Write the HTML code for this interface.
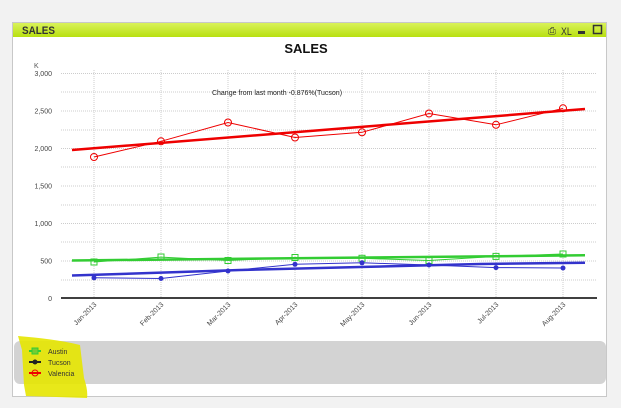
<!DOCTYPE html>
<html><head><meta charset="utf-8"><style>
html,body{margin:0;padding:0;background:#f2f2f2;width:621px;height:408px;overflow:hidden}
svg{display:block}
text{font-family:"Liberation Sans",sans-serif}
</style></head><body>
<svg width="621" height="408" viewBox="0 0 621 408">
<defs><linearGradient id="hg" x1="0" y1="0" x2="0" y2="1"><stop offset="0" stop-color="#d9f25a"/><stop offset="1" stop-color="#b8e010"/></linearGradient></defs>
<rect x="12.5" y="22.5" width="594" height="374" fill="#fff" stroke="#c8c8c8"/>
<rect x="13" y="23" width="593" height="14" fill="url(#hg)"/>
<text x="22" y="34" font-size="11" font-weight="bold" fill="#333" transform="translate(22,0) scale(0.9,1) translate(-22,0)">SALES</text>
<text x="548" y="34" font-size="10" fill="#333">⎙</text>
<text x="561" y="35" font-size="11" fill="#333" transform="translate(561,0) scale(0.8,1) translate(-561,0)">XL</text>
<rect x="578" y="31" width="7" height="3" fill="#333"/>
<rect x="593.5" y="25.5" width="8" height="8" fill="none" stroke="#333" stroke-width="1.5"/>
<text x="306" y="53" font-size="13" font-weight="bold" text-anchor="middle" fill="#111">SALES</text>
<text x="34" y="68" font-size="7" fill="#555">K</text>
<g stroke="#ccc" stroke-dasharray="1,1" stroke-width="1">
<line x1="61" y1="73.5" x2="597" y2="73.5"/><line x1="61" y1="111" x2="597" y2="111"/><line x1="61" y1="148.5" x2="597" y2="148.5"/><line x1="61" y1="186" x2="597" y2="186"/><line x1="61" y1="223.5" x2="597" y2="223.5"/><line x1="61" y1="261" x2="597" y2="261"/>
<line x1="61" y1="92" x2="597" y2="92"/><line x1="61" y1="130" x2="597" y2="130"/><line x1="61" y1="167" x2="597" y2="167"/><line x1="61" y1="205" x2="597" y2="205"/><line x1="61" y1="242" x2="597" y2="242"/><line x1="61" y1="280" x2="597" y2="280"/>
<line x1="94" y1="70" x2="94" y2="298"/><line x1="161" y1="70" x2="161" y2="298"/><line x1="228" y1="70" x2="228" y2="298"/><line x1="295" y1="70" x2="295" y2="298"/><line x1="362" y1="70" x2="362" y2="298"/><line x1="429" y1="70" x2="429" y2="298"/><line x1="496" y1="70" x2="496" y2="298"/><line x1="563" y1="70" x2="563" y2="298"/>
</g>
<line x1="61" y1="298" x2="597" y2="298" stroke="#000" stroke-width="1.5"/>
<g font-size="7" fill="#444" text-anchor="end">
<text x="52" y="76">3,000</text><text x="52" y="113.5">2,500</text><text x="52" y="151">2,000</text><text x="52" y="188.5">1,500</text>
<text x="52" y="226">1,000</text><text x="52" y="263.5">500</text><text x="52" y="301">0</text>
</g>
<text x="277" y="95" font-size="7" text-anchor="middle" fill="#222">Change from last month -0.876%(Tucson)</text>
<g font-size="7" fill="#444" text-anchor="end">
<text transform="translate(97,305) rotate(-45)">Jan-2013</text>
<text transform="translate(164,305) rotate(-45)">Feb-2013</text>
<text transform="translate(231,305) rotate(-45)">Mar-2013</text>
<text transform="translate(298,305) rotate(-45)">Apr-2013</text>
<text transform="translate(365,305) rotate(-45)">May-2013</text>
<text transform="translate(432,305) rotate(-45)">Jun-2013</text>
<text transform="translate(499,305) rotate(-45)">Jul-2013</text>
<text transform="translate(566,305) rotate(-45)">Aug-2013</text>
</g>
<line x1="72" y1="150" x2="585" y2="109" stroke="#e00" stroke-width="2.5"/>
<line x1="72" y1="260.5" x2="585" y2="255.3" stroke="#3c3" stroke-width="2.5"/>
<polyline points="72,275.5 120,274 180,272 240,270 300,268.5 360,267 420,265.5 480,264 585,262.8" fill="none" stroke="#33c" stroke-width="2.5"/>
<polyline points="94,157 161,141.3 228,122.5 295,137.5 362,132.3 429,113.5 496,124.8 563,108.3" fill="none" stroke="#e00" stroke-width="1"/>
<g fill="none" stroke="#e00"><circle cx="94" cy="157" r="3.5"/><circle cx="161" cy="141.3" r="3.5"/><circle cx="228" cy="122.5" r="3.5"/><circle cx="295" cy="137.5" r="3.5"/><circle cx="362" cy="132.3" r="3.5"/><circle cx="429" cy="113.5" r="3.5"/><circle cx="496" cy="124.8" r="3.5"/><circle cx="563" cy="108.3" r="3.5"/></g>
<polyline points="94,262 161,257.1 228,260.5 295,257.5 362,258.3 429,260.5 496,256.4 563,254" fill="none" stroke="#3c3" stroke-width="1"/>
<g fill="none" stroke="#3c3"><rect x="91" y="259" width="6" height="6"/><rect x="158" y="254" width="6" height="6"/><rect x="225" y="257.5" width="6" height="6"/><rect x="292" y="254.5" width="6" height="6"/><rect x="359" y="255.3" width="6" height="6"/><rect x="426" y="257.5" width="6" height="6"/><rect x="493" y="253.4" width="6" height="6"/><rect x="560" y="251" width="6" height="6"/></g>
<polyline points="94,277.8 161,278.5 228,271 295,264.3 362,262.8 429,265 496,267.6 563,268" fill="none" stroke="#33c" stroke-width="1"/>
<g fill="#33c"><circle cx="94" cy="277.8" r="2.5"/><circle cx="161" cy="278.5" r="2.5"/><circle cx="228" cy="271" r="2.5"/><circle cx="295" cy="264.3" r="2.5"/><circle cx="362" cy="262.8" r="2.5"/><circle cx="429" cy="265" r="2.5"/><circle cx="496" cy="267.6" r="2.5"/><circle cx="563" cy="268" r="2.5"/></g>
<rect x="14" y="341" width="592" height="43" rx="6" fill="#d3d3d3"/>
<path d="M18,336 C40,338 60,340 80,345 L84,378 C86,384 88,392 87,398 L26,396 L24,385 L22,350 Z" fill="#e6e600" opacity="0.9"/>
<g font-size="7" fill="#333">
<text x="48" y="354">Austin</text><text x="48" y="365">Tucson</text><text x="48" y="376">Valencia</text>
</g>
<line x1="29" y1="351" x2="41" y2="351" stroke="#3c3" stroke-width="2"/><rect x="32" y="348" width="6" height="6" fill="#7c3" stroke="#3c3"/>
<line x1="29" y1="362" x2="41" y2="362" stroke="#222" stroke-width="2"/><circle cx="35" cy="362" r="2.5" fill="#222"/>
<line x1="29" y1="373" x2="41" y2="373" stroke="#e00" stroke-width="2"/><circle cx="35" cy="373" r="3" fill="none" stroke="#e00"/>
</svg>
</body></html>
